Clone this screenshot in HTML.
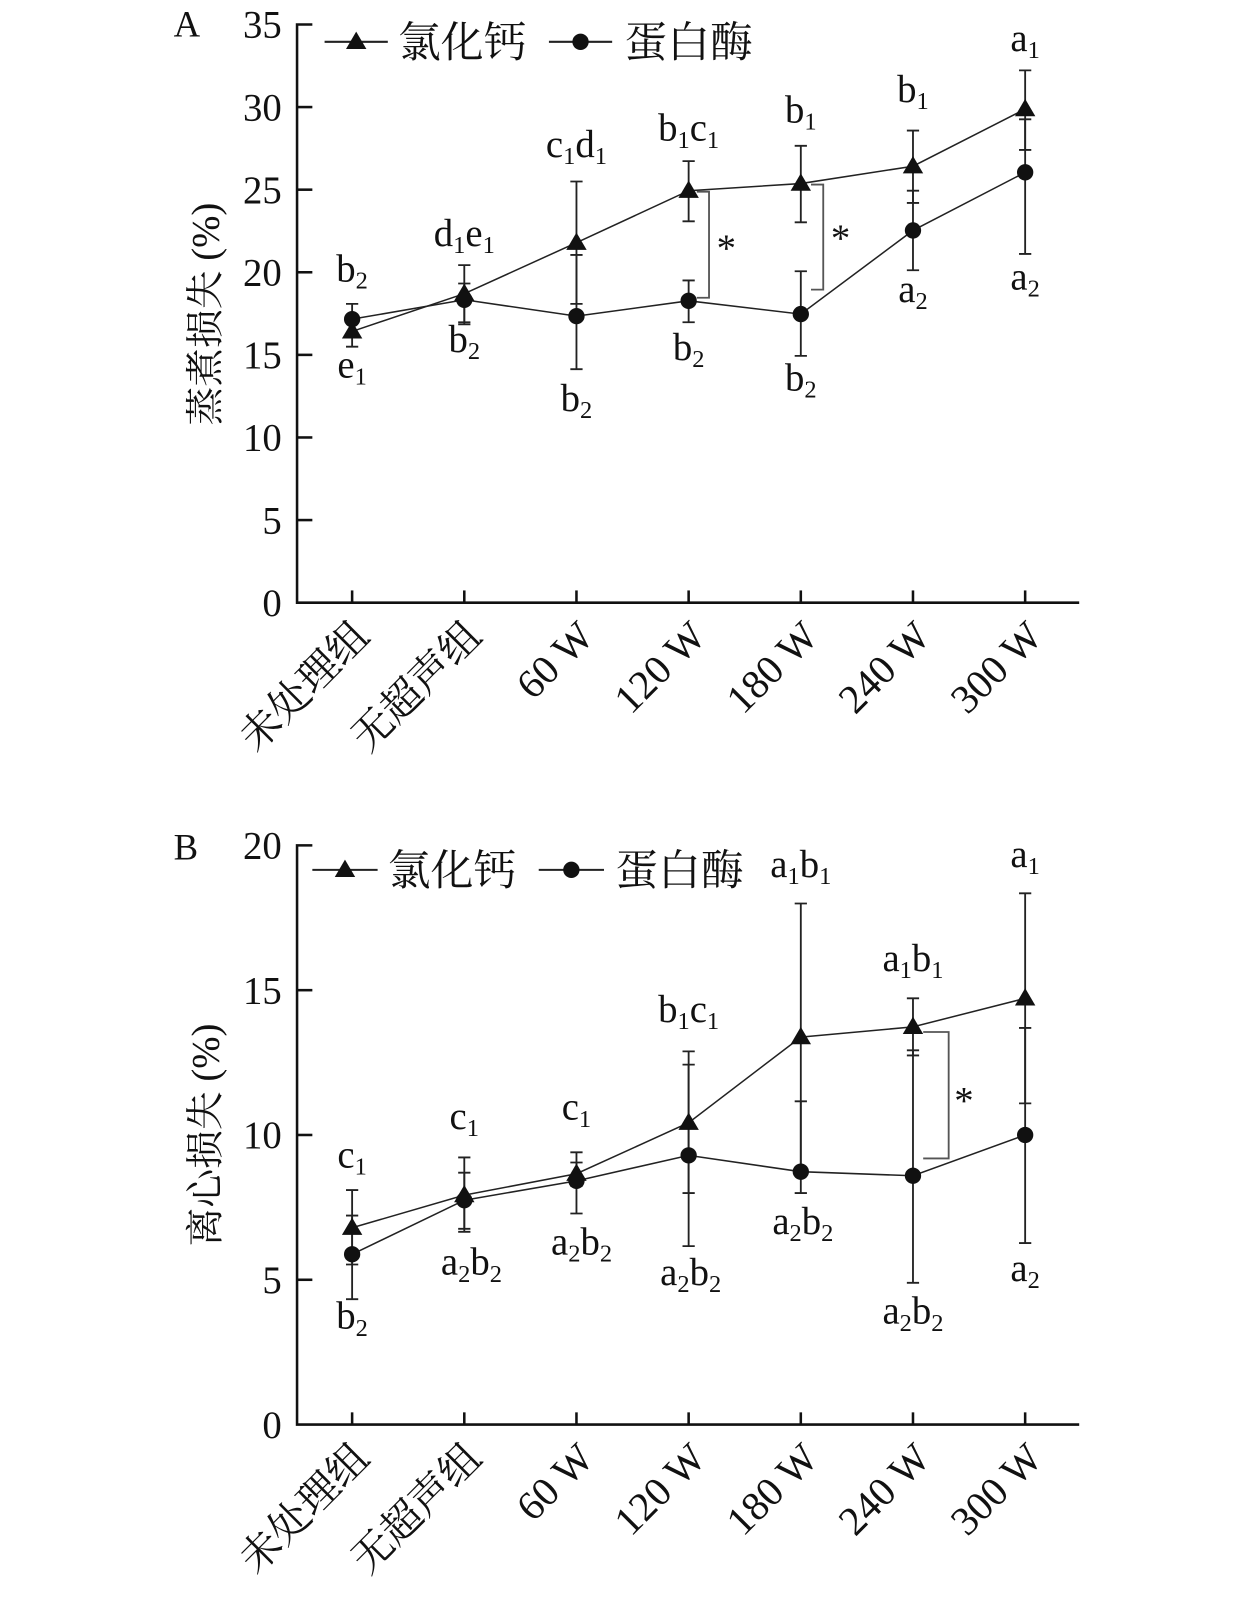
<!DOCTYPE html>
<html><head><meta charset="utf-8"><style>
html,body{margin:0;padding:0;background:#fff;}
svg{display:block;}
text{font-family:"Liberation Serif","Noto Serif CJK SC","Noto Sans CJK SC",serif;fill:#111;}
.cjk{font-family:"Liberation Serif","Noto Serif CJK SC",serif;}
</style></head><body>
<svg width="1260" height="1601" viewBox="0 0 1235 1570" xmlns="http://www.w3.org/2000/svg">
<defs>
<g id="tri"><polygon points="0,-10 10,7 -10,7" fill="#111"/></g>
<g id="cir"><circle r="8" fill="#111"/></g>
</defs>
<g stroke="#111" fill="none" stroke-width="2.5">
<polyline points="306,24 291,24 291,591 1058,591"/>
<line x1="291" y1="105" x2="306" y2="105"/><line x1="291" y1="186" x2="306" y2="186"/>
<line x1="291" y1="267" x2="306" y2="267"/><line x1="291" y1="348" x2="306" y2="348"/>
<line x1="291" y1="429" x2="306" y2="429"/><line x1="291" y1="510" x2="306" y2="510"/>
<line x1="345" y1="591" x2="345" y2="579"/><line x1="455" y1="591" x2="455" y2="579"/>
<line x1="565" y1="591" x2="565" y2="579"/><line x1="675" y1="591" x2="675" y2="579"/>
<line x1="785" y1="591" x2="785" y2="579"/><line x1="895" y1="591" x2="895" y2="579"/>
<line x1="1005" y1="591" x2="1005" y2="579"/>
<polyline points="306,829 291,829 291,1397 1058,1397"/>
<line x1="291" y1="971" x2="306" y2="971"/><line x1="291" y1="1113" x2="306" y2="1113"/>
<line x1="291" y1="1255" x2="306" y2="1255"/>
<line x1="345" y1="1397" x2="345" y2="1385"/><line x1="455" y1="1397" x2="455" y2="1385"/>
<line x1="565" y1="1397" x2="565" y2="1385"/><line x1="675" y1="1397" x2="675" y2="1385"/>
<line x1="785" y1="1397" x2="785" y2="1385"/><line x1="895" y1="1397" x2="895" y2="1385"/>
<line x1="1005" y1="1397" x2="1005" y2="1385"/>
</g>
<g stroke="#222" stroke-width="1.8" fill="none">
<path d="M345,310V340M339,310h12M339,340h12 M455,260V318M449,260h12M449,318h12 M565,178V298M559,178h12M559,298h12 M675,158V217M669,158h12M669,217h12 M785,143V218M779,143h12M779,218h12 M895,128V199M889,128h12M889,199h12 M1005,69V147M999,69h12M999,147h12"/>
<path d="M345,298V328M339,298h12M339,328h12 M455,278V316M449,278h12M449,316h12 M565,250V362M559,250h12M559,362h12 M675,275V316M669,275h12M669,316h12 M785,266V349M779,266h12M779,349h12 M895,187V265M889,187h12M889,265h12 M1005,117V249M999,117h12M999,249h12"/>
<path d="M345,1167V1240M339,1167h12M339,1240h12 M455,1135V1208M449,1135h12M449,1208h12 M565,1140V1163M559,1140h12M559,1163h12 M675,1031V1170M669,1031h12M669,1170h12 M785,886V1148M779,886h12M779,1148h12 M895,979V1035M889,979h12M889,1035h12 M1005,876V1082M999,876h12M999,1082h12"/>
<path d="M345,1192V1274M339,1192h12M339,1274h12 M455,1150V1205M449,1150h12M449,1205h12 M565,1130V1190M559,1130h12M559,1190h12 M675,1044V1222M669,1044h12M669,1222h12 M785,1080V1170M779,1080h12M779,1170h12 M895,1030V1258M889,1030h12M889,1258h12 M1005,1008V1219M999,1008h12M999,1219h12"/>
<path stroke="#555" d="M683,188H695V292H683 M795,181H807V284H795 M905,1012H930V1136H905"/>
</g>
<g stroke="#222" stroke-width="1.5" fill="none">
<polyline points="345,325 455,288 565,238 675,187 785,180 895,163 1005,107"/>
<polyline points="345,313 455,294 565,310 675,295 785,308 895,226 1005,169"/>
<polyline points="345,1204 455,1172 565,1151 675,1101 785,1017 895,1007 1005,979"/>
<polyline points="345,1230 455,1177 565,1158 675,1133 785,1149 895,1153 1005,1113"/>
<line x1="318" y1="41" x2="380" y2="41" stroke-width="2"/>
<line x1="538" y1="41" x2="600" y2="41" stroke-width="2"/>
<line x1="306" y1="853" x2="370" y2="853" stroke-width="2"/>
<line x1="528" y1="853" x2="592" y2="853" stroke-width="2"/>
</g>
<g>
<use href="#tri" x="349" y="41"/><use href="#cir" x="569" y="41"/>
<use href="#tri" x="338" y="853"/><use href="#cir" x="560" y="853"/>
<use href="#tri" x="345" y="325"/><use href="#tri" x="455" y="288"/><use href="#tri" x="565" y="238"/><use href="#tri" x="675" y="187"/><use href="#tri" x="785" y="180"/><use href="#tri" x="895" y="163"/><use href="#tri" x="1005" y="107"/>
<use href="#cir" x="345" y="313"/><use href="#cir" x="455" y="294"/><use href="#cir" x="565" y="310"/><use href="#cir" x="675" y="295"/><use href="#cir" x="785" y="308"/><use href="#cir" x="895" y="226"/><use href="#cir" x="1005" y="169"/>
<use href="#tri" x="345" y="1204"/><use href="#tri" x="455" y="1172"/><use href="#tri" x="565" y="1151"/><use href="#tri" x="675" y="1101"/><use href="#tri" x="785" y="1017"/><use href="#tri" x="895" y="1007"/><use href="#tri" x="1005" y="979"/>
<use href="#cir" x="345" y="1230"/><use href="#cir" x="455" y="1177"/><use href="#cir" x="565" y="1158"/><use href="#cir" x="675" y="1133"/><use href="#cir" x="785" y="1149"/><use href="#cir" x="895" y="1153"/><use href="#cir" x="1005" y="1113"/>
</g>
<text x="390" y="56" font-size="42" class="cjk">氯化钙</text>
<text x="612" y="56" font-size="42" class="cjk">蛋白酶</text>
<text x="380" y="868" font-size="42" class="cjk">氯化钙</text>
<text x="603" y="868" font-size="42" class="cjk">蛋白酶</text>
<g font-size="36">
<text x="170" y="36">A</text><text x="170" y="843">B</text>
</g>
<g font-size="38" text-anchor="end">
<text x="276" y="37">35</text><text x="276" y="118">30</text><text x="276" y="199">25</text><text x="276" y="280">20</text><text x="276" y="361">15</text><text x="276" y="442">10</text><text x="276" y="523">5</text><text x="276" y="604">0</text>
<text x="276" y="842">20</text><text x="276" y="984">15</text><text x="276" y="1126">10</text><text x="276" y="1268">5</text><text x="276" y="1410">0</text>
</g>
<text transform="translate(214,308) rotate(-90)" font-size="38" text-anchor="middle" class="cjk">蒸煮损失 (%)</text>
<text transform="translate(214,1113) rotate(-90)" font-size="38" text-anchor="middle" class="cjk">离心损失 (%)</text>
<g font-size="40" text-anchor="end" class="cjk">
<text transform="translate(364,626) rotate(-45)">未处理组</text>
<text transform="translate(474,626) rotate(-45)">无超声组</text>
<text transform="translate(584,626) rotate(-45)">60 W</text>
<text transform="translate(694,626) rotate(-45)">120 W</text>
<text transform="translate(804,626) rotate(-45)">180 W</text>
<text transform="translate(914,626) rotate(-45)">240 W</text>
<text transform="translate(1024,626) rotate(-45)">300 W</text>
<text transform="translate(364,1432) rotate(-45)">未处理组</text>
<text transform="translate(474,1432) rotate(-45)">无超声组</text>
<text transform="translate(584,1432) rotate(-45)">60 W</text>
<text transform="translate(694,1432) rotate(-45)">120 W</text>
<text transform="translate(804,1432) rotate(-45)">180 W</text>
<text transform="translate(914,1432) rotate(-45)">240 W</text>
<text transform="translate(1024,1432) rotate(-45)">300 W</text>
</g>
<g font-size="38" text-anchor="middle">
<text x="345" y="276">b<tspan font-size="24" dy="7">2</tspan></text>
<text x="345" y="370">e<tspan font-size="24" dy="7">1</tspan></text>
<text x="455" y="241">d<tspan font-size="24" dy="7">1</tspan><tspan dy="-7">e</tspan><tspan font-size="24" dy="7">1</tspan></text>
<text x="455" y="345">b<tspan font-size="24" dy="7">2</tspan></text>
<text x="565" y="154">c<tspan font-size="24" dy="7">1</tspan><tspan dy="-7">d</tspan><tspan font-size="24" dy="7">1</tspan></text>
<text x="565" y="403">b<tspan font-size="24" dy="7">2</tspan></text>
<text x="675" y="138">b<tspan font-size="24" dy="7">1</tspan><tspan dy="-7">c</tspan><tspan font-size="24" dy="7">1</tspan></text>
<text x="675" y="353">b<tspan font-size="24" dy="7">2</tspan></text>
<text x="785" y="120">b<tspan font-size="24" dy="7">1</tspan></text>
<text x="785" y="383">b<tspan font-size="24" dy="7">2</tspan></text>
<text x="895" y="100">b<tspan font-size="24" dy="7">1</tspan></text>
<text x="895" y="296">a<tspan font-size="24" dy="7">2</tspan></text>
<text x="1005" y="50">a<tspan font-size="24" dy="7">1</tspan></text>
<text x="1005" y="284">a<tspan font-size="24" dy="7">2</tspan></text>
<text x="712" y="256">*</text><text x="824" y="246">*</text>
<text x="345" y="1145">c<tspan font-size="24" dy="7">1</tspan></text>
<text x="345" y="1303">b<tspan font-size="24" dy="7">2</tspan></text>
<text x="455" y="1107">c<tspan font-size="24" dy="7">1</tspan></text>
<text x="462" y="1250">a<tspan font-size="24" dy="7">2</tspan><tspan dy="-7">b</tspan><tspan font-size="24" dy="7">2</tspan></text>
<text x="570" y="1230">a<tspan font-size="24" dy="7">2</tspan><tspan dy="-7">b</tspan><tspan font-size="24" dy="7">2</tspan></text>
<text x="565" y="1098">c<tspan font-size="24" dy="7">1</tspan></text>
<text x="675" y="1002">b<tspan font-size="24" dy="7">1</tspan><tspan dy="-7">c</tspan><tspan font-size="24" dy="7">1</tspan></text>
<text x="677" y="1260">a<tspan font-size="24" dy="7">2</tspan><tspan dy="-7">b</tspan><tspan font-size="24" dy="7">2</tspan></text>
<text x="785" y="860">a<tspan font-size="24" dy="7">1</tspan><tspan dy="-7">b</tspan><tspan font-size="24" dy="7">1</tspan></text>
<text x="787" y="1210">a<tspan font-size="24" dy="7">2</tspan><tspan dy="-7">b</tspan><tspan font-size="24" dy="7">2</tspan></text>
<text x="895" y="952">a<tspan font-size="24" dy="7">1</tspan><tspan dy="-7">b</tspan><tspan font-size="24" dy="7">1</tspan></text>
<text x="895" y="1298">a<tspan font-size="24" dy="7">2</tspan><tspan dy="-7">b</tspan><tspan font-size="24" dy="7">2</tspan></text>
<text x="1005" y="850">a<tspan font-size="24" dy="7">1</tspan></text>
<text x="1005" y="1256">a<tspan font-size="24" dy="7">2</tspan></text>
<text x="945" y="1092">*</text>
</g>
</svg>
</body></html>
